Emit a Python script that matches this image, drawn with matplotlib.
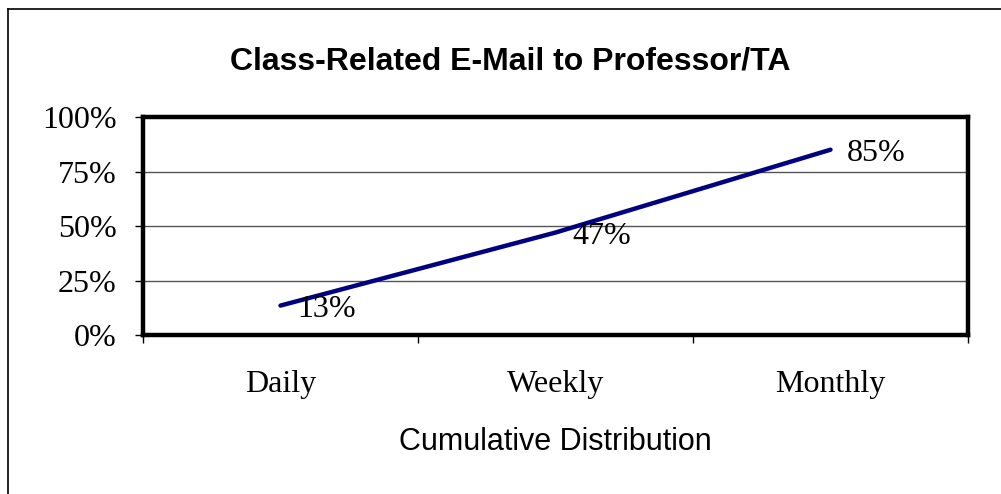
import matplotlib
matplotlib.use("Agg")
import matplotlib.pyplot as plt
from matplotlib.lines import Line2D

categories = ["Daily", "Weekly", "Monthly"]
values = [0.135, 0.47, 0.85]
labels = ["13%", "47%", "85%"]
yticks = [0, 0.25, 0.5, 0.75, 1.0]
yticklabels = ["0%", "25%", "50%", "75%", "100%"]

fig = plt.figure(figsize=(10.01, 4.94), dpi=100)
ax = fig.add_axes([143/1001, 1-335/494, (968-143)/1001, (335-117)/494])

x = list(range(len(categories)))
ax.plot(x, values, color="#000080", lw=3.2, solid_capstyle="round", zorder=3)
for xi, v, lab in zip(x, values, labels):
    ax.annotate(lab, (xi, v), xytext=(12, -3), textcoords="offset points",
                ha="left", va="center", fontsize=23, family="Liberation Serif", zorder=4)

ax.set_xlim(-0.5, 2.5)
ax.set_ylim(0, 1)
ax.set_yticks(yticks)
ax.set_yticklabels(yticklabels, family="Liberation Serif", fontsize=23)
ax.set_xticks([-0.5, 0.5, 1.5, 2.5])
ax.set_xticklabels([])
ax.set_xticks(x, minor=True)
ax.set_xticklabels(categories, minor=True, family="Liberation Serif", fontsize=23)
ax.tick_params(axis="x", which="minor", length=0, pad=25)
ax.tick_params(axis="x", which="major", direction="out", length=6, width=1, color="black")
ax.tick_params(axis="y", direction="out", length=6, width=1, pad=13, color="black")
ax.grid(axis="y", color="#555555", lw=1.0)
ax.set_axisbelow(True)
for s in ax.spines.values():
    s.set_linewidth(3.2)
    s.set_color("black")

ax.set_xlabel("Cumulative Distribution", family="Liberation Sans", fontsize=22, labelpad=20)
fig.text(510/1001, 1-61/494, "Class-Related E-Mail to Professor/TA", ha="center", va="center",
         family="Liberation Sans", fontweight="bold", fontsize=23)

# outer frame (left and top only)
fig.add_artist(Line2D([8/1001, 8/1001], [0, 1-9/494], transform=fig.transFigure, color="black", lw=1.2))
fig.add_artist(Line2D([8/1001, 1], [1-9/494, 1-9/494], transform=fig.transFigure, color="black", lw=1.2))

fig.savefig("out.png", dpi=100)
